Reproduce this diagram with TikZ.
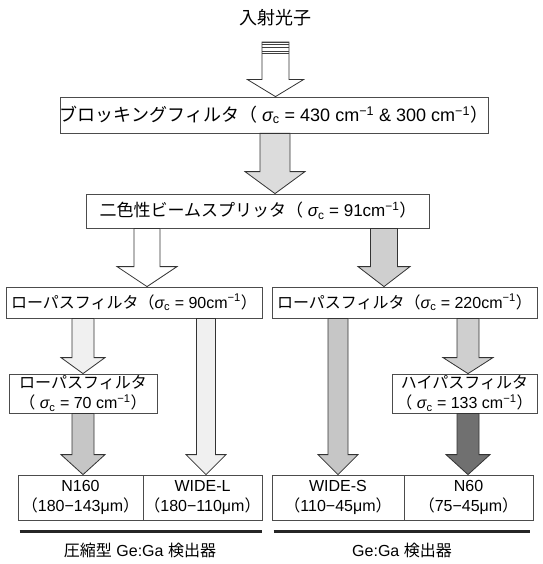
\documentclass[tikz,border=0pt]{standalone}
\usepackage{fontspec}
\setmainfont{Liberation Sans}
\newfontfamily\jp{Noto Sans CJK JP}
\usetikzlibrary{calc}
\newcommand\sigc{{\itshape σ}\textsubscript{c}}
\newcommand\inv{\textsuperscript{−1}}
\newcommand\barr[7]{%
  \coordinate (bx) at (#2,0);
  \coordinate (bs0) at (bx |- #3);
  \coordinate (be0) at (bx |- #4);
  \filldraw[barrow, fill=#1] ($(bs0)+(-#5,0)$) -- ($(be0)+(-#5,-#7)$) -- ($(be0)+(-#6,-#7)$) -- (be0)
     -- ($(be0)+(#6,-#7)$) -- ($(be0)+(#5,-#7)$) -- ($(bs0)+(#5,0)$) -- cycle;
}
\definecolor{g1}{HTML}{DCDCDC}
\definecolor{g2}{HTML}{CFCFCF}
\definecolor{g3}{HTML}{C6C6C6}
\definecolor{g0}{HTML}{F0F0F0}
\definecolor{gd}{HTML}{707070}
\tikzset{
  box/.style={draw=black!70, line width=0.8pt, fill=white, inner sep=0pt, align=center},
  barrow/.style={draw=black!80, line width=0.8pt, line join=miter},
  big/.style={font=\fontsize{18}{21}\selectfont},
  mid/.style={font=\fontsize{17}{20}\selectfont},
  sml/.style={font=\fontsize{16}{20}\selectfont},
  uline/.style={line width=3pt, black!85},
}
\begin{document}
\begin{tikzpicture}[x=1pt,y=-1pt]
\useasboundingbox (0,0) rectangle (542,564);
% title
\node[big] (title) at (275,18) {\jp 入射光子};
% boxes
\node[box, big, minimum width=428pt, minimum height=36pt] (blk) at (274,115)
  {{\jp ブロッキングフィルタ（} \sigc\ = 430 cm\inv\ \& 300 cm\inv{\jp ）}};
\node[box, mid, minimum width=343pt, minimum height=34pt] (bs) at (258,211)
  {{\jp 二色性ビームスプリッタ（} \sigc\ = 91cm\inv{\jp ）}};
\node[box, sml, minimum width=256pt, minimum height=31pt] (lpfL) at (134,302.5)
  {{\jp ローパスフィルタ（}\sigc\ = 90cm\inv{\jp ）}};
\node[box, sml, minimum width=265pt, minimum height=31pt] (lpfR) at (404.5,302.5)
  {{\jp ローパスフィルタ（}\sigc\ = 220cm\inv{\jp ）}};
\node[box, sml, minimum width=148pt, minimum height=39pt] (lpf2) at (83,393.5)
  {{\jp ローパスフィルタ}\\{\jp （} \sigc\ = 70 cm\inv{\jp ）}};
\node[box, sml, minimum width=145pt, minimum height=39pt] (hpf) at (464.5,393.5)
  {{\jp ハイパスフィルタ}\\{\jp （} \sigc\ = 133 cm\inv{\jp ）}};
% detectors
\node[box, sml, minimum width=125pt, minimum height=45pt] (n160) at (80.5,497.5)
  {N160\\{\jp （}180−143μm{\jp ）}};
\node[box, sml, minimum width=119pt, minimum height=45pt] (widel) at (202.5,497.5)
  {WIDE-L\\{\jp （}180−110μm{\jp ）}};
\node[box, sml, minimum width=132pt, minimum height=45pt] (wides) at (338,497.5)
  {WIDE-S\\{\jp （}110−45μm{\jp ）}};
\node[box, sml, minimum width=129pt, minimum height=45pt] (n60) at (468.5,497.5)
  {N60\\{\jp （}75−45μm{\jp ）}};
% arrows
\coordinate (src) at (275.5,42);
\barr{white}{275.5}{src}{blk.north}{13.5}{28}{17}
\foreach \yy in {42,44.5,47,51,53.5}
  \draw[black!75, line width=0.7pt] (262,\yy) -- (289,\yy);
\barr{g1}{275}{blk.south}{bs.north}{15}{30}{22}
\barr{white}{147}{bs.south}{lpfL.north}{13}{30}{20}
\barr{g2}{384}{bs.south}{lpfR.north}{13.5}{26}{20}
\barr{g0}{83}{lpfL.south}{lpf2.north}{11}{22}{16}
\barr{g3}{83}{lpf2.south}{n160.north}{11}{22}{20}
\barr{g0}{206}{lpfL.south}{widel.north}{9.5}{20}{20}
\barr{g3}{338}{lpfR.south}{wides.north}{10}{20}{20}
\barr{g2}{468}{lpfR.south}{hpf.north}{11}{25}{16}
\barr{gd}{468}{hpf.south}{n60.north}{11}{22}{20}
% underlines and labels
\draw[uline] ($(n160.south west)+(2,11)$) -- ($(widel.south east)+(0,11)$);
\draw[uline] ($(wides.south west)+(2,11)$) -- ($(n60.south east)+(-3,11)$);
\node[sml] (lab1) at (140,550) {{\jp 圧縮型} Ge:Ga {\jp 検出器}};
\node[sml] (lab2) at (402,550) {Ge:Ga {\jp 検出器}};
\end{tikzpicture}
\end{document}
